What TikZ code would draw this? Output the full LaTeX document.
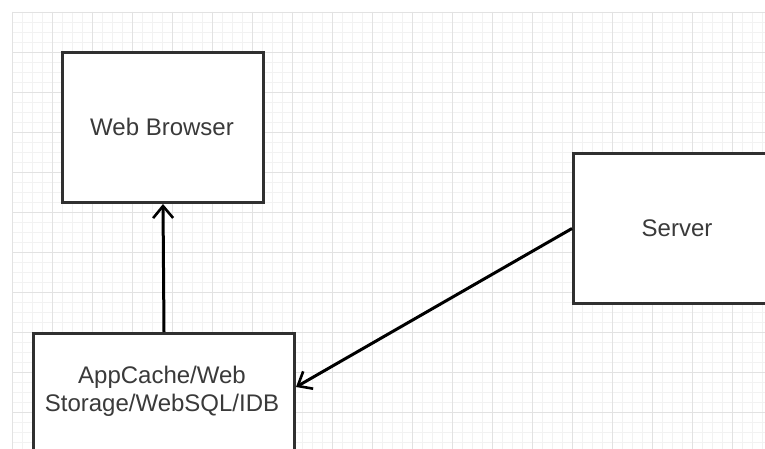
\documentclass[tikz,border=0pt]{standalone}
\usepackage{fontspec}
\setmainfont{Liberation Sans}
\usetikzlibrary{arrows.meta,calc}
\definecolor{gridminor}{HTML}{F2F2F2}
\definecolor{gridmajor}{HTML}{E2E2E2}
\definecolor{boxline}{HTML}{303030}
\definecolor{txt}{HTML}{3A3A3A}
\tikzset{
  box/.style={draw=boxline, line width=3pt, fill=white, rectangle, inner sep=0pt, anchor=north west},
  lbl/.style={text=txt, font=\fontsize{24}{28}\selectfont, align=center, inner sep=0pt},
  conn/.style={draw=black, line width=3pt, -{Straight Barb[length=12pt,width=20pt,line width=2.6pt]}},
}
\begin{document}
\begin{tikzpicture}[x=1pt,y=-1pt]
\clip (0,0) rectangle (765,449);
\fill[white] (0,0) rectangle (765,449);
% grid
\foreach \i in {0,...,75} {
  \draw[gridminor, line width=0.8pt] ({12+10*\i},12) -- ({12+10*\i},449);
}
\foreach \j in {0,...,44} {
  \draw[gridminor, line width=0.8pt] (12,{12+10*\j}) -- (765,{12+10*\j});
}
\foreach \i in {0,...,19} {
  \draw[gridmajor, line width=0.9pt] ({12+40*\i},12) -- ({12+40*\i},449);
}
\foreach \j in {0,...,11} {
  \draw[gridmajor, line width=0.9pt] (12,{12+40*\j}) -- (765,{12+40*\j});
}
% boxes
\node[box, minimum width=201pt, minimum height=150pt] (wb) at (61,51) {};
\node[lbl] (wblbl) at (162,127) {Web Browser};
\node[box, minimum width=212pt, minimum height=150pt] (srv) at (572,152) {};
\node[lbl] (srvlbl) at (677,228) {Server};
\node[box, minimum width=261pt, minimum height=160pt] (app) at (32,332) {};
\node[lbl] (applbl) at (162,391) {AppCache/Web\\Storage/WebSQL/IDB};
\coordinate (appin) at ($(app.north east)+(0,55)$);
% connectors
\draw[conn] (app.north) -- (wb.south);
\draw[conn] (srv.west) -- (appin);
\end{tikzpicture}
\end{document}
